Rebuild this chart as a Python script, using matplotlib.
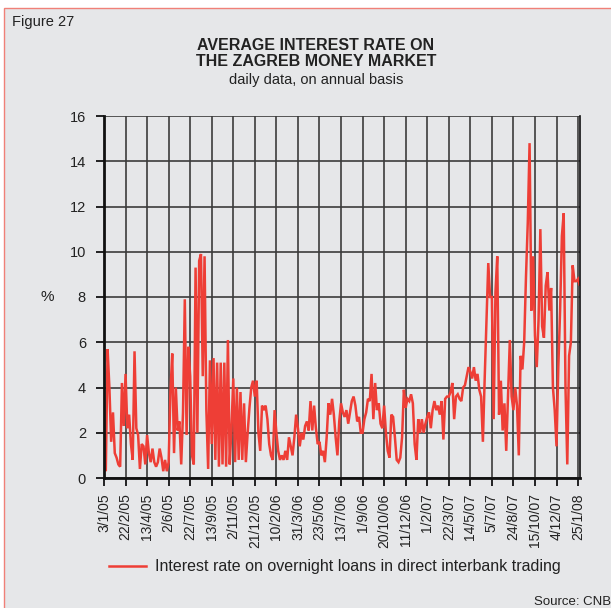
import numpy as np
import matplotlib.pyplot as plt
from matplotlib.patches import Rectangle

plt.rcParams['font.family'] = ['Liberation Sans', 'DejaVu Sans']

# tick dates (roughly every 35 business days)
dates = ['3/1/05', '22/2/05', '13/4/05', '2/6/05', '22/7/05', '13/9/05',
         '2/11/05', '21/12/05', '10/2/06', '31/3/06', '23/5/06', '13/7/06',
         '1/9/06', '20/10/06', '11/12/06', '1/2/07', '22/3/07', '14/5/07',
         '5/7/07', '24/8/07', '15/10/07', '4/12/07', '25/1/08']

# overnight rate, %, 12 readings between tick dates
rate_2005 = [
    0.6, 0.3, 5.7, 4.0, 1.6, 2.9, 1.1, 0.9, 0.6, 0.5, 4.2, 2.3,
    4.6, 2.2, 2.8, 1.5, 0.8, 5.6, 2.2, 1.9, 0.4, 1.5, 1.4, 0.6,
    1.9, 1.1, 0.7, 1.3, 0.7, 0.5, 0.7, 1.3, 0.9, 0.3, 0.8, 0.3,
    0.7, 3.8, 5.5, 1.1, 4.0, 2.1, 2.5, 0.6, 2.9, 7.9, 1.9, 5.8,
    4.5, 1.0, 0.6, 9.3, 2.0, 9.6, 9.9, 4.5, 9.8, 3.0, 0.4, 5.2,
    1.5, 5.3, 0.8, 5.1, 0.5, 5.1, 0.6, 5.1, 0.5, 6.1, 0.6, 2.2,
    4.4, 0.7, 4.0, 0.8, 3.8, 0.8, 3.3, 0.7, 2.0, 3.1, 4.0, 4.3,
]
rate_2006 = [
    3.6, 4.3, 2.0, 1.2, 3.2, 3.0, 3.2, 2.6, 1.5, 1.0, 0.8, 3.0,
    2.0, 1.2, 0.8, 1.0, 0.8, 1.2, 0.8, 1.8, 1.4, 1.0, 1.8, 2.8,
    2.2, 1.4, 2.0, 1.7, 2.3, 2.5, 2.1, 3.4, 2.1, 3.2, 2.2, 1.5,
    1.6, 1.0, 1.2, 0.7, 1.8, 3.3, 2.8, 3.5, 2.8, 1.8, 1.0, 2.5,
    3.3, 2.9, 2.7, 3.0, 2.4, 2.9, 3.4, 3.6, 3.2, 2.5, 2.7, 2.0,
    2.0, 2.6, 2.9, 3.5, 3.4, 4.6, 2.6, 4.2, 3.0, 3.3, 2.4, 2.2,
    3.2, 2.0, 1.2, 0.9, 2.8, 2.7, 1.8, 0.8, 0.7, 0.9, 1.8, 3.9,
]
rate_2007 = [
    3.1, 3.5, 3.4, 3.7, 3.3, 1.5, 0.8, 2.6, 2.0, 2.6, 2.0, 2.4,
    2.7, 2.9, 2.2, 3.0, 3.4, 3.0, 3.2, 2.8, 3.4, 1.7, 3.5, 3.6,
    3.6, 3.8, 4.2, 2.6, 3.6, 3.7, 3.5, 3.4, 4.0, 4.1, 4.5, 4.9,
    4.7, 4.4, 4.9, 4.3, 4.6, 3.9, 3.6, 1.6, 4.4, 7.0, 9.5, 8.0,
    8.0, 2.6, 8.2, 9.8, 2.8, 4.3, 2.1, 3.3, 1.2, 3.7, 6.1, 3.6,
    3.0, 4.0, 3.2, 1.0, 5.4, 4.8, 6.0, 8.9, 11.3, 14.8, 7.4, 9.8,
    6.3, 4.9, 7.0, 11.0, 6.7, 6.2, 8.5, 9.1, 7.4, 8.4, 4.0, 3.0,
    1.4, 4.9, 7.4, 10.7, 11.7, 4.0, 0.6, 5.4, 6.0, 9.4, 8.7, 8.7,
    8.8, 8.5, 8.7,
]
rate = np.array(rate_2005 + rate_2006 + rate_2007)
x = np.arange(len(rate)) / 12.0

bg = '#e6e7e9'
red = '#ee3e36'

fig = plt.figure(figsize=(6.11, 6.08), dpi=100, facecolor='white')
fig.patches.append(Rectangle((4 / 611, -0.02), 1.0, 1 - 8 / 608 + 0.02,
                             transform=fig.transFigure, facecolor=bg,
                             edgecolor='#f08078', lw=1.0, zorder=-10))

ax = fig.add_axes([104 / 611, 1 - 478 / 608, (580 - 104) / 611, (478 - 116) / 608])
ax.set_facecolor(bg)
ax.plot(x, rate, color=red, lw=1.8, solid_joinstyle='miter',
        label='Interest rate on overnight loans in direct interbank trading')

ax.set_xlim(0, 22.09)
ax.set_ylim(0, 16)
ax.set_yticks(np.arange(0, 17, 2))
ax.set_xticks(np.arange(len(dates)))
ax.set_xticklabels(dates, rotation=90, fontsize=10, color='#222222')
ax.tick_params(axis='y', labelsize=10.5, labelcolor='#222222', length=6,
               width=1.2, direction='out', pad=7)
ax.tick_params(axis='x', length=6, width=1.2, direction='out', pad=5)
ax.grid(True, color='#3c3c3c', lw=1.2)
ax.set_axisbelow(True)
for s in ['left', 'bottom']:
    ax.spines[s].set_linewidth(2)
    ax.spines[s].set_color('#111111')
ax.spines['right'].set_linewidth(1.2)
ax.spines['right'].set_color('#111111')
ax.spines['top'].set_visible(False)

fig.text(47 / 611, 1 - 297 / 608, '%', fontsize=11, ha='center', va='center',
         color='#222222')
fig.text(12 / 611, 1 - 22 / 608, 'Figure 27', fontsize=10.5, ha='left',
         va='center', color='#222222')
fig.text(316 / 611, 1 - 45 / 608, 'AVERAGE INTEREST RATE ON', fontsize=11.5,
         weight='bold', ha='center', va='center', color='#222222')
fig.text(316 / 611, 1 - 62 / 608, 'THE ZAGREB MONEY MARKET', fontsize=11.5,
         weight='bold', ha='center', va='center', color='#222222')
fig.text(316 / 611, 1 - 80 / 608, 'daily data, on annual basis', fontsize=10.5,
         ha='center', va='center', color='#222222')
fig.text(1.0, 1 - 602 / 608, 'Source: CNB', fontsize=9.5, ha='right',
         va='center', color='#222222')

fig.legend(loc='center left', bbox_to_anchor=(109 / 611, 1 - 567 / 608),
           frameon=False, fontsize=11.5, handlelength=2.3, handletextpad=0.6,
           borderpad=0, borderaxespad=0, labelcolor='#222222')

fig.savefig('out.png', dpi=100, facecolor='white')
